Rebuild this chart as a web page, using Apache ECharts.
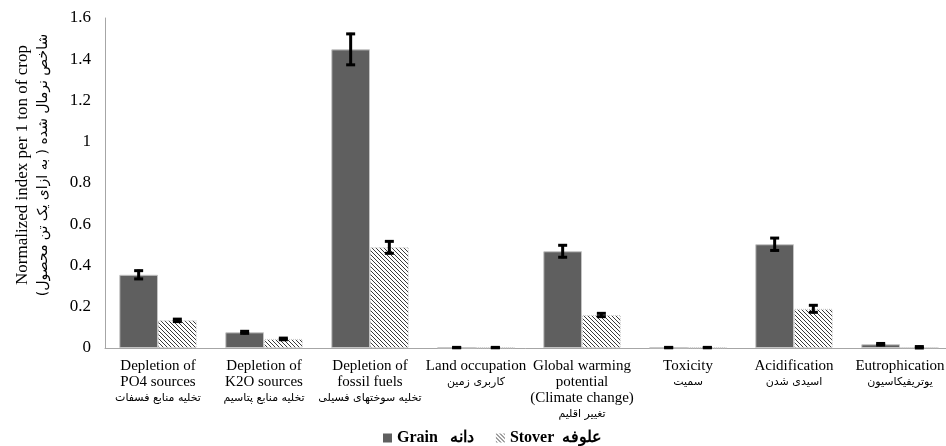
<!DOCTYPE html>
<html>
<head>
<meta charset="utf-8">
<script src="https://cdn.jsdelivr.net/npm/echarts@6/dist/echarts.min.js"></script>
<style>
  html, body { margin: 0; padding: 0; background: #fff; }
  #chart { width: 946px; height: 446px; }
</style>
</head>
<body>
<div id="chart"></div>
<script>
// Impact categories (English + Persian)
const categoriesEn = [
  'Depletion of\nPO4 sources',
  'Depletion of\nK2O sources',
  'Depletion of\nfossil fuels',
  'Land occupation',
  'Global warming\npotential\n(Climate change)',
  'Toxicity',
  'Acidification',
  'Eutrophication'
];
const categoriesFa = [
  'تخلیه منابع فسفات',
  'تخلیه منابع پتاسیم',
  'تخلیه سوختهای فسیلی',
  'کاربری زمین',
  'تغییر اقلیم',
  'سمیت',
  'اسیدی شدن',
  'یوتریفیکاسیون'
];

// Normalized index per 1 ton of crop
const grainValues  = [0.355, 0.076, 1.448, 0.002, 0.469, 0.002, 0.503, 0.018];
const grainErrors  = [0.020, 0.005, 0.075, 0.001, 0.029, 0.001, 0.030, 0.004];
const stoverValues = [0.134, 0.044, 0.488, 0.002, 0.160, 0.002, 0.190, 0.003];
const stoverErrors = [0.006, 0.004, 0.029, 0.001, 0.008, 0.001, 0.017, 0.004];

const yTicks = ['0', '0.2', '0.4', '0.6', '0.8', '1', '1.2', '1.4', '1.6'];

const grainName = 'Grain   دانه';
const stoverName = 'Stover  علوفه';

// Diagonal hatch fill for the stover bars
function makeHatch() {
  const c = document.createElement('canvas');
  c.width = 4; c.height = 4;
  const g = c.getContext('2d');
  g.fillStyle = '#ffffff';
  g.fillRect(0, 0, 4, 4);
  g.strokeStyle = '#3a3a3a';
  g.lineWidth = 1;
  g.beginPath();
  g.moveTo(-1, -1); g.lineTo(5, 5);
  g.moveTo(-1, 3); g.lineTo(1, 5);
  g.moveTo(3, -1); g.lineTo(5, 1);
  g.stroke();
  return c;
}
const hatch = { image: makeHatch(), repeat: 'repeat' };

const CAT_GAP = 0.27;

function errorBar(sign) {
  return function (params, api) {
    const i = api.value(0);
    const v = api.value(1);
    const e = api.value(2);
    const band = api.size([1, 0])[0];
    const barW = band * (1 - CAT_GAP) / 2;
    const x = api.coord([i, v])[0] + sign * barW / 2;
    const yHi = api.coord([i, v + e])[1];
    const yLo = api.coord([i, Math.max(0, v - e)])[1];
    const cap = 4.5;
    const style = { stroke: '#000', lineWidth: 3 };
    return {
      type: 'group',
      children: [
        { type: 'line', shape: { x1: x, y1: yHi - 1, x2: x, y2: yLo + 1 }, style: style },
        { type: 'line', shape: { x1: x - cap, y1: yHi, x2: x + cap, y2: yHi }, style: style },
        { type: 'line', shape: { x1: x - cap, y1: yLo, x2: x + cap, y2: yLo }, style: style }
      ]
    };
  };
}

const chart = echarts.init(document.getElementById('chart'), null, { renderer: 'canvas' });

chart.setOption({
  animation: false,
  backgroundColor: '#ffffff',
  textStyle: { fontFamily: 'Liberation Serif' },
  grid: {
    left: 105, top: 18, width: 848, height: 330,
    containLabel: false,
    outerBoundsMode: 'none'
  },
  legend: {
    top: 425,
    left: 378,
    itemWidth: 9,
    itemHeight: 9,
    itemGap: 22,
    icon: 'rect',
    textStyle: { fontFamily: 'Liberation Serif', fontSize: 16, fontWeight: 'bold', color: '#000' },
    data: [
      { name: grainName, itemStyle: { color: '#5f5f5f', borderWidth: 0 } },
      { name: stoverName, itemStyle: { color: hatch, borderWidth: 0 } }
    ]
  },
  xAxis: {
    type: 'category',
    data: categoriesEn,
    axisLine: { lineStyle: { color: '#a6a6a6', width: 1 } },
    axisTick: { show: false },
    axisLabel: {
      interval: 0,
      margin: 10,
      formatter: function (value, idx) {
        const lines = categoriesEn[idx].split('\n').map(l => '{en|' + l + '}');
        lines.push('{fa|' + categoriesFa[idx] + '}');
        return lines.join('\n');
      },
      rich: {
        en: { fontFamily: 'Liberation Serif', fontSize: 15, color: '#000', lineHeight: 16 },
        fa: { fontFamily: 'DejaVu Sans', fontSize: 11, color: '#000', lineHeight: 17 }
      }
    }
  },
  yAxis: {
    type: 'value',
    min: 0,
    max: 1.6,
    interval: 0.2,
    splitLine: { show: false },
    axisLine: { show: true, lineStyle: { color: '#a6a6a6', width: 1 } },
    axisTick: { show: false },
    axisLabel: {
      margin: 14,
      fontFamily: 'Liberation Serif',
      fontSize: 17,
      color: '#000',
      formatter: function (v) { return yTicks[Math.round(v / 0.2)]; }
    },
    name: '{en|Normalized index per 1 ton of crop}\n{fa|(شاخص نرمال شده ( به ازای یک تن محصول}',
    nameLocation: 'middle',
    nameRotate: 90,
    nameGap: 51,
    nameTextStyle: {
      color: '#000',
      padding: [0, 0, 0, 36],
      rich: {
        en: { fontFamily: 'Liberation Serif', fontSize: 17, color: '#000', lineHeight: 21 },
        fa: { fontFamily: 'DejaVu Sans', fontSize: 14, color: '#000', lineHeight: 21 }
      }
    }
  },
  series: [
    {
      name: grainName,
      type: 'bar',
      data: grainValues,
      barGap: '0%',
      barCategoryGap: (CAT_GAP * 100) + '%',
      itemStyle: { color: '#5f5f5f', borderColor: '#c4c4c4', borderWidth: 1 }
    },
    {
      name: stoverName,
      type: 'bar',
      data: stoverValues,
      barGap: '0%',
      barCategoryGap: (CAT_GAP * 100) + '%',
      itemStyle: { color: hatch, borderColor: '#c8c8c8', borderWidth: 1, borderType: 'dotted' }
    },
    {
      name: 'grainErr',
      type: 'custom',
      renderItem: errorBar(-1),
      data: grainValues.map((v, i) => [i, v, grainErrors[i]]),
      encode: { x: 0, y: 1 },
      z: 10,
      silent: true
    },
    {
      name: 'stoverErr',
      type: 'custom',
      renderItem: errorBar(1),
      data: stoverValues.map((v, i) => [i, v, stoverErrors[i]]),
      encode: { x: 0, y: 1 },
      z: 10,
      silent: true
    }
  ]
});
</script>
</body>
</html>
